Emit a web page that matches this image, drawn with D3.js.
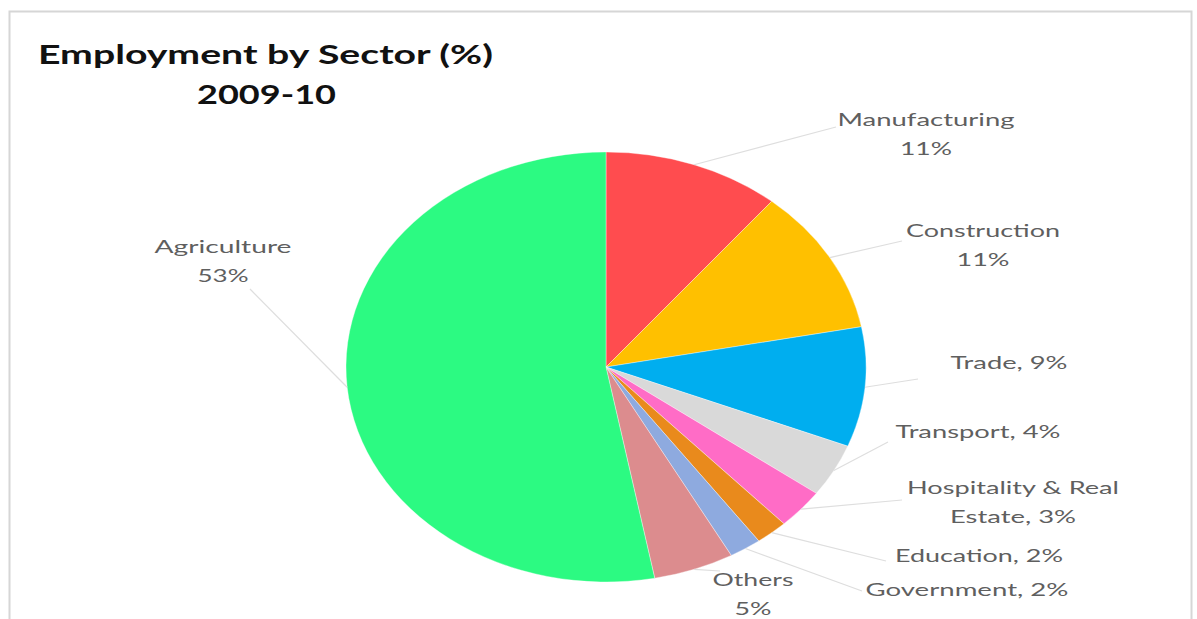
<!DOCTYPE html>
<html>
<head>
<meta charset="utf-8">
<script src="https://cdn.jsdelivr.net/npm/d3@7"></script>
<style>
  html, body { margin: 0; padding: 0; background: #ffffff; }
  svg { display: block; }
</style>
</head>
<body>
<svg id="chart" width="1197" height="619"></svg>
<script>
// Employment by sector, 2009-10 (percent of workforce), clockwise from 12 o'clock
const sectors = ["Manufacturing", "Construction", "Trade", "Transport",
                 "Hospitality & Real Estate", "Education", "Government", "Others", "Agriculture"];
const shares  = [11, 11, 9, 4, 3, 2, 2, 5, 53];
const colors  = ["#ff4c4f", "#ffc000", "#00aeef", "#d9d9d9",
                 "#ff6cc6", "#e98a1c", "#8eaadf", "#dc8c8e", "#2cfa82"];

// Label text, split into lines as drawn
const labelLines = [
  d => [d.name, d.value + "%"],
  d => [d.name, d.value + "%"],
  d => [d.name + ", " + d.value + "%"],
  d => [d.name + ", " + d.value + "%"],
  d => ["Hospitality & Real", "Estate, " + d.value + "%"],
  d => [d.name + ", " + d.value + "%"],
  d => [d.name + ", " + d.value + "%"],
  d => [d.name, d.value + "%"],
  d => [d.name, d.value + "%"]
];

// Label layout: centre x, first line centre y, widths of each line, leader end point
const labelLayout = [
  { x: 926, y: 120, w: [177, 52], end: [836, 127] },
  { x: 983, y: 231, w: [154, 53], end: [902, 241] },
  { x: 1009, y: 363, w: [117], end: [918, 379] },
  { x: 978, y: 432, w: [165], end: [888, 442] },
  { x: 1013, y: 488, w: [212, 126], end: [902, 500] },
  { x: 979, y: 556, w: [168], end: [886, 561] },
  { x: 967, y: 590, w: [203], end: [862, 591] },
  { x: 753, y: 580, w: [81, 37], end: [720, 571] },
  { x: 223, y: 247, w: [137, 51], end: [250, 289] }
];

const svg = d3.select("#chart");

// Frame
svg.append("rect")
  .attr("x", 9.5).attr("y", 11.5)
  .attr("width", 1182).attr("height", 640)
  .attr("fill", "#ffffff")
  .attr("stroke", "#d6d6d6")
  .attr("stroke-width", 2);

// Title
const title = svg.append("g")
  .attr("font-family", "Lato, 'Open Sans', sans-serif")
  .attr("font-weight", "bold")
  .attr("font-size", 27)
  .attr("fill", "#111111");
title.append("text")
  .attr("x", 38).attr("y", 64)
  .attr("textLength", 455).attr("lengthAdjust", "spacingAndGlyphs")
  .text("Employment by Sector (%)");
title.append("text")
  .attr("x", 197).attr("y", 104)
  .attr("textLength", 139).attr("lengthAdjust", "spacingAndGlyphs")
  .text("2009-10");

// Pie geometry: the chart is stretched horizontally, so the pie is an ellipse
const cx = 606, cy = 367, rx = 260, ry = 215;

const data = sectors.map((name, i) => ({ name, value: shares[i], color: colors[i], i }));

const pie = d3.pie().value(d => d.value).sort(null);
const arcs = pie(data);
const arc = d3.arc().innerRadius(0).outerRadius(rx);

const pieG = svg.append("g")
  .attr("transform", `translate(${cx},${cy}) scale(1,${ry / rx})`);

pieG.selectAll("path")
  .data(arcs)
  .join("path")
  .attr("d", arc)
  .attr("fill", d => d.data.color)
  .attr("stroke", "#ffffff")
  .attr("stroke-width", 0.4);

// Point on the ellipse rim at a pie angle
const rim = a => [cx + rx * Math.sin(a), cy - ry * Math.cos(a)];

// Leader lines
svg.append("g")
  .selectAll("line")
  .data(arcs)
  .join("line")
  .attr("x1", d => rim((d.startAngle + d.endAngle) / 2)[0])
  .attr("y1", d => rim((d.startAngle + d.endAngle) / 2)[1])
  .attr("x2", d => labelLayout[d.data.i].end[0])
  .attr("y2", d => labelLayout[d.data.i].end[1])
  .attr("stroke", "#dedede")
  .attr("stroke-width", 1.2);

// Data labels
const labels = svg.append("g")
  .attr("font-family", "Lato, 'Open Sans', sans-serif")
  .attr("font-size", 18)
  .attr("fill", "#5f5f5f")
  .attr("text-anchor", "middle");

arcs.forEach(d => {
  const lay = labelLayout[d.data.i];
  const lines = labelLines[d.data.i](d.data);
  const t = labels.append("text");
  lines.forEach((ln, k) => {
    t.append("tspan")
      .attr("x", lay.x)
      .attr("y", lay.y + k * 29)
      .attr("dy", "0.35em")
      .attr("textLength", lay.w[k])
      .attr("lengthAdjust", "spacingAndGlyphs")
      .text(ln);
  });
});
</script>
</body>
</html>
